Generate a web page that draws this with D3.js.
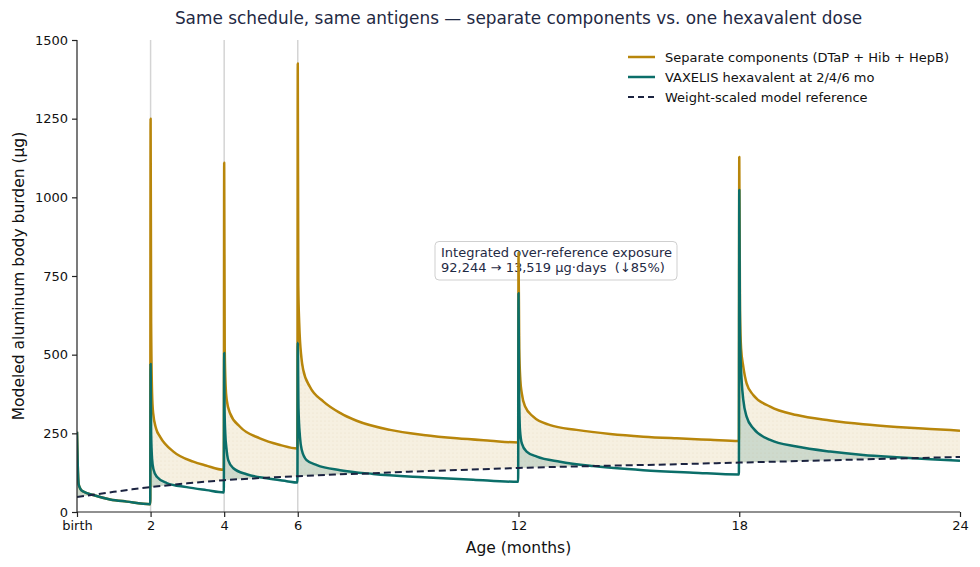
<!DOCTYPE html>
<html><head><meta charset="utf-8">
<script src="https://cdn.jsdelivr.net/npm/d3@7"></script>
<style>body{margin:0;background:#fff}svg{display:block;font-family:"DejaVu Sans",sans-serif}</style>
</head><body><svg id="c" width="980" height="567"></svg>
<script>
// ---- data ----
const title = "Same schedule, same antigens \u2014 separate components vs. one hexavalent dose";
const xTickVals = [0, 2, 4, 6, 12, 18, 24];
const xTickLabels = ["birth", "2", "4", "6", "12", "18", "24"];
const yTickVals = [0, 250, 500, 750, 1000, 1250, 1500];
const doseLines = [2, 4, 6];
const seriesNames = ["Separate components (DTaP + Hib + HepB)", "VAXELIS hexavalent at 2/4/6 mo", "Weight-scaled model reference"];
const annotationLines = ["Integrated over-reference exposure", "92,244 \u2192 13,519 \u00b5g\u00b7days  (\u219385%)"];

const separate = [
 [0,255],[0.02,150],[0.045,88],[0.1,72],[0.17,65],[0.44,54],[0.9,40],[1.35,33],[1.99,25],
 [2.0005,1250],[2.015,600],[2.04,380],[2.07,314],[2.15,265],[2.26,239],[2.62,192],[3.16,160],[3.5,148],[3.99,134],
 [4.0005,1110],[4.015,520],[4.04,400],[4.07,356],[4.16,314],[4.43,271],[4.97,234],[5.52,213],[5.99,202],
 [6.0005,1425],[6.015,720],[6.04,600],[6.1,490],[6.15,451],[6.33,398],[6.70,351],[7.15,315],[7.60,290],[8.51,261],[9.41,245],[10.32,234],[11.23,226.5],[11.99,221],
 [12.0005,825],[12.02,520],[12.05,420],[12.09,377],[12.18,335],[12.40,303],[12.86,276],[13.58,261],[14.49,248],[15.39,239.5],[16.30,234],[17.21,229.5],[17.99,226],
 [18.0005,1128],[18.02,640],[18.05,520],[18.11,462],[18.20,409],[18.38,372],[18.84,335],[19.56,308],[20.47,291],[21.37,279],[22.28,270.5],[23.19,264],[24,258.5]
];
const vaxelis = [
 [0,255],[0.02,150],[0.045,88],[0.1,72],[0.17,65],[0.44,54],[0.9,40],[1.35,33],[1.99,25],
 [2.0005,470],[2.015,250],[2.04,170],[2.08,135],[2.17,112],[2.44,92],[2.98,79],[3.52,69.5],[3.99,62],
 [4.0005,505],[4.01,330],[4.03,250],[4.06,205],[4.11,165],[4.25,139],[4.61,120],[5.16,107],[5.70,98],[5.99,93.5],
 [6.0005,538],[6.02,330],[6.06,239],[6.11,197],[6.24,165],[6.52,149],[7.15,133],[8.05,121],[9.41,110.5],[10.77,102.5],[11.99,96],
 [12.0005,695],[12.015,400],[12.04,261],[12.09,218],[12.22,192],[12.50,176],[13.13,160],[14.03,146],[15.39,133],[16.75,125],[17.99,119],
 [18.0005,1023],[18.02,560],[18.07,409],[18.11,356],[18.20,303],[18.38,266],[18.84,229],[19.56,208],[20.47,192],[21.37,181],[22.28,174],[23.19,168],[24,163]
];
const reference = [
 [0,48],[0.5,56],[1,64],[1.5,72],[2,79],[3,91],[4,101],[5,108],[6,114],[7,119],[8,123],[9,128],[10,132],[11,136],
 [12,140],[14,146],[16,151],[18,157],[20,163],[22,169],[24,175]
];

// ---- drawing ----
const W = 980, H = 567;
const m = {l: 77, r: 20, t: 40, b: 55};
const svg = d3.select("#c");
const x = d3.scaleLinear().domain([0, 24]).range([m.l, W - m.r]);
const y = d3.scaleLinear().domain([0, 1500]).range([H - m.b, m.t]);
const C_SEP = "#b8860b", C_VAX = "#0b6e69", C_REF = "#1b2340", C_TXT = "#1f2a44";

const line = d3.line().x(d => x(d[0])).y(d => y(d[1])).curve(d3.curveMonotoneX);
const areaBelow = d3.area().x(d => x(d[0])).y0(y(0)).y1(d => y(d[1])).curve(d3.curveMonotoneX);
const areaAbove = d3.area().x(d => x(d[0])).y0(m.t - 5).y1(d => y(d[1])).curve(d3.curveMonotoneX);

const defs = svg.append("defs");
defs.append("clipPath").attr("id", "aboveRef").append("path").attr("d", areaAbove(reference));
defs.append("clipPath").attr("id", "plot").append("rect")
  .attr("x", m.l).attr("y", m.t).attr("width", W - m.l - m.r).attr("height", H - m.t - m.b);
const pat = defs.append("pattern").attr("id", "dots").attr("width", 4).attr("height", 4).attr("patternUnits", "userSpaceOnUse");
pat.append("circle").attr("cx", 1).attr("cy", 1).attr("r", 0.6).attr("fill", "#b8a070").attr("fill-opacity", 0.25);

// dose lines
svg.append("g").selectAll("line").data(doseLines).join("line")
  .attr("x1", d => x(d)).attr("x2", d => x(d)).attr("y1", m.t).attr("y2", H - m.b)
  .attr("stroke", "#d4d4d4").attr("stroke-width", 1.5);

// fills
const fills = svg.append("g").attr("clip-path", "url(#aboveRef)");
fills.append("path").attr("d", areaBelow(separate)).attr("fill", C_SEP).attr("fill-opacity", 0.12);
fills.append("path").attr("d", areaBelow(vaxelis)).attr("fill", C_VAX).attr("fill-opacity", 0.17);
fills.append("path").attr("d", areaBelow(separate)).attr("fill", "url(#dots)");

// annotation box (beneath the lines)
const ann = svg.append("g");
ann.append("rect").attr("x", 435).attr("y", 241.5).attr("width", 242).attr("height", 38.5).attr("rx", 4)
  .attr("fill", "#fff").attr("fill-opacity", 0.9).attr("stroke", "#cfcfcf").attr("stroke-width", 1);
ann.selectAll("text").data(annotationLines).join("text")
  .attr("x", 441).attr("y", (d, i) => 257 + i * 15)
  .attr("font-size", 13).attr("fill", C_TXT).style("white-space", "pre").attr("xml:space", "preserve").text(d => d);

// lines
const lines = svg.append("g").attr("clip-path", "url(#plot)");
lines.append("path").attr("d", line(separate)).attr("fill", "none").attr("stroke", C_SEP).attr("stroke-width", 2.5).attr("stroke-linejoin", "round");
lines.append("path").attr("d", line(vaxelis)).attr("fill", "none").attr("stroke", C_VAX).attr("stroke-width", 2.5).attr("stroke-linejoin", "round");
lines.append("path").attr("d", line(reference)).attr("fill", "none").attr("stroke", C_REF).attr("stroke-width", 2).attr("stroke-dasharray", "7,4");

// axes
const xAxis = svg.append("g").attr("transform", `translate(0,${H - m.b})`)
  .call(d3.axisBottom(x).tickValues(xTickVals).tickFormat((d, i) => xTickLabels[i]).tickSize(5).tickPadding(4));
const yAxis = svg.append("g").attr("transform", `translate(${m.l},0)`)
  .call(d3.axisLeft(y).tickValues(yTickVals).tickFormat(d3.format("d")).tickSize(5).tickPadding(4));
[xAxis, yAxis].forEach(a => {
  a.select(".domain").attr("stroke", "#222").attr("stroke-width", 1.2);
  a.selectAll(".tick line").attr("stroke", "#222").attr("stroke-width", 1.2);
  a.selectAll(".tick text").attr("font-size", 13).attr("fill", "#111").attr("font-family", "DejaVu Sans, sans-serif");
});
xAxis.select(".domain").attr("d", `M${x(0)},0H${x(24)}`);
yAxis.select(".domain").attr("d", `M0,${y(0)}V${y(1500)}`);

// labels
svg.append("text").attr("x", (m.l + W - m.r) / 2).attr("y", 24).attr("text-anchor", "middle")
  .attr("font-size", 16.9).attr("fill", C_TXT).text(title);
svg.append("text").attr("x", (m.l + W - m.r) / 2).attr("y", 553).attr("text-anchor", "middle")
  .attr("font-size", 15.5).attr("fill", "#111").text("Age (months)");
svg.append("text").attr("transform", `translate(24,${(m.t + H - m.b) / 2}) rotate(-90)`).attr("text-anchor", "middle")
  .attr("font-size", 15.5).attr("fill", "#111").text("Modeled aluminum body burden (\u00b5g)");

// legend
const legColors = [C_SEP, C_VAX, C_REF];
const leg = svg.append("g").attr("transform", "translate(628,57)");
const li = leg.selectAll("g").data(seriesNames).join("g").attr("transform", (d, i) => `translate(0,${i * 20})`);
li.append("line").attr("x1", 0).attr("x2", 27).attr("stroke", (d, i) => legColors[i])
  .attr("stroke-width", (d, i) => i === 2 ? 2 : 2.5).attr("stroke-dasharray", (d, i) => i === 2 ? "6,4" : null);
li.append("text").attr("x", 37).attr("y", 4.5).attr("font-size", 13).attr("fill", "#111").text(d => d);
</script></body></html>
